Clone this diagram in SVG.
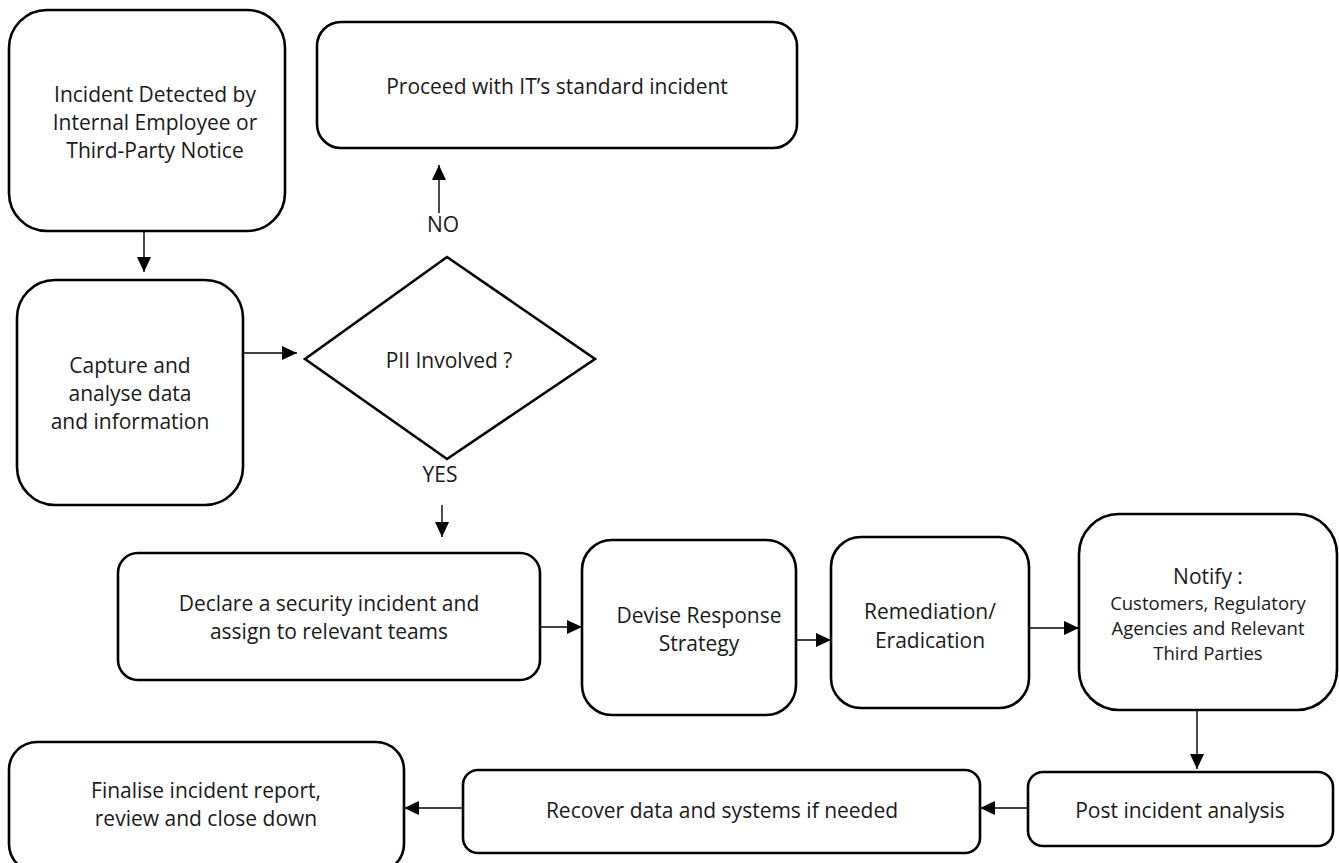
<svg xmlns="http://www.w3.org/2000/svg" width="1339" height="863" viewBox="0 0 1339 863">
<defs>
<style>
.box{fill:#fff;stroke:#000;stroke-width:2.6}
.t{font-family:"Open Sans","Noto Sans","DejaVu Sans",sans-serif;font-size:21px;fill:#1a1a1a;text-anchor:middle}
.s{font-size:18.5px}
.c{stroke:#000;stroke-width:1.4;fill:none}
</style>
<marker id="ah" markerUnits="userSpaceOnUse" markerWidth="16" markerHeight="14" refX="15" refY="7" orient="auto">
<path d="M0,0 L15,7 L0,14 Z" fill="#000"/>
</marker>
</defs>
<rect width="1339" height="863" fill="#fff"/>
<g id="connectors">
<line class="c" x1="144" y1="231" x2="144" y2="272" marker-end="url(#ah)"/>
<line class="c" x1="243" y1="353" x2="297" y2="353" marker-end="url(#ah)"/>
<line class="c" x1="439" y1="213" x2="439" y2="165" marker-end="url(#ah)"/>
<line class="c" x1="442" y1="505" x2="442" y2="537" marker-end="url(#ah)"/>
<line class="c" x1="540" y1="627" x2="582" y2="627" marker-end="url(#ah)"/>
<line class="c" x1="796" y1="640" x2="831" y2="640" marker-end="url(#ah)"/>
<line class="c" x1="1029" y1="628" x2="1079" y2="628" marker-end="url(#ah)"/>
<line class="c" x1="1197" y1="710" x2="1197" y2="769" marker-end="url(#ah)"/>
<line class="c" x1="1028" y1="808" x2="980" y2="808" marker-end="url(#ah)"/>
<line class="c" x1="463" y1="808" x2="404" y2="808" marker-end="url(#ah)"/>
<text class="t" x="443" y="232">NO</text>
<text class="t" x="440" y="482">YES</text>
</g>
<g id="n1">
<rect class="box" x="9" y="10" width="276" height="221" rx="38"/>
<text class="t" x="155" y="102">Incident Detected by</text>
<text class="t" x="155" y="130">Internal Employee or</text>
<text class="t" x="155" y="158">Third-Party Notice</text>
</g>
<g id="n2">
<rect class="box" x="17" y="280" width="226" height="225" rx="38"/>
<text class="t" x="130" y="373">Capture and</text>
<text class="t" x="130" y="401">analyse data</text>
<text class="t" x="130" y="429">and information</text>
</g>
<g id="n3">
<rect class="box" x="317" y="22" width="480" height="126" rx="24"/>
<text class="t" x="557" y="94">Proceed with IT’s standard incident</text>
</g>
<g id="n4">
<polygon class="box" points="447,257 595,359 447,459 305,359"/>
<text class="t" x="449" y="368">PII Involved ?</text>
</g>
<g id="n5">
<rect class="box" x="118" y="553" width="422" height="127" rx="20"/>
<text class="t" x="329" y="611">Declare a security incident and</text>
<text class="t" x="329" y="639">assign to relevant teams</text>
</g>
<g id="n6">
<rect class="box" x="582" y="540" width="214" height="175" rx="30"/>
<text class="t" x="699" y="623">Devise Response</text>
<text class="t" x="699" y="651">Strategy</text>
</g>
<g id="n7">
<rect class="box" x="831" y="537" width="198" height="171" rx="30"/>
<text class="t" x="930" y="619">Remediation/</text>
<text class="t" x="930" y="648">Eradication</text>
</g>
<g id="n8">
<rect class="box" x="1079" y="514" width="258" height="196" rx="40"/>
<text class="t" x="1208" y="584">Notify :</text>
<text class="t s" x="1208" y="610">Customers, Regulatory</text>
<text class="t s" x="1208" y="635">Agencies and Relevant</text>
<text class="t s" x="1208" y="660">Third Parties</text>
</g>
<g id="n9">
<rect class="box" x="1028" y="772" width="305" height="74" rx="15"/>
<text class="t" x="1180" y="818">Post incident analysis</text>
</g>
<g id="n10">
<rect class="box" x="463" y="770" width="517" height="83" rx="15"/>
<text class="t" x="722" y="818">Recover data and systems if needed</text>
</g>
<g id="n11">
<rect class="box" x="9" y="742" width="395" height="130" rx="28"/>
<text class="t" x="206" y="798">Finalise incident report,</text>
<text class="t" x="206" y="826">review and close down</text>
</g>
</svg>
